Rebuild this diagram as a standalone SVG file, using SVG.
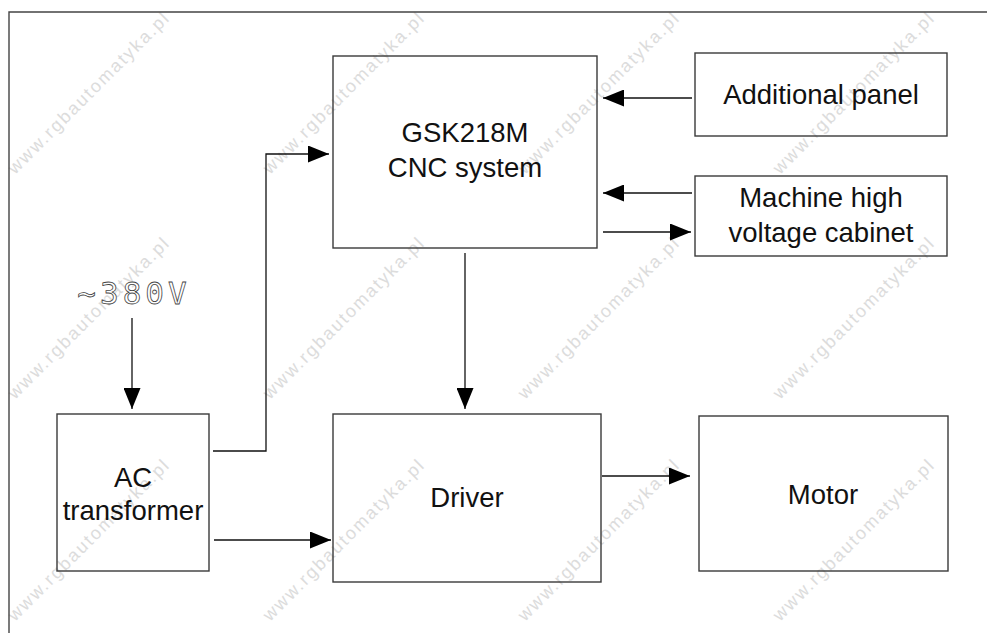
<svg xmlns="http://www.w3.org/2000/svg" width="987" height="633" viewBox="0 0 987 633">
  <style>
    .box { fill: none; stroke: #3a3a3a; stroke-width: 1.4; }
    .lbl { font-family: "Liberation Sans", Arial, sans-serif; font-size: 27.5px; fill: #111; text-anchor: middle; }
    .wire { fill: none; stroke: #111; stroke-width: 1.3; }
    .wm { font-family: "Liberation Sans", Arial, sans-serif; font-size: 18px; letter-spacing: 2px; fill: #dcdcdc; }
    .volt { font-family: "DejaVu Sans Mono", "Liberation Mono", monospace; font-size: 31px; letter-spacing: 4px; fill: #fff; stroke: #444; stroke-width: 0.8; text-anchor: middle; }
  </style>
  <defs>
    <marker id="arrow" markerUnits="userSpaceOnUse" markerWidth="21" markerHeight="17" refX="21" refY="8.5" orient="auto">
      <path d="M0,0 L21,8.5 L0,17 Z" fill="#000"/>
    </marker>
  </defs>
  <rect width="987" height="633" fill="#fff"/>

  <g id="watermark">
    <text class="wm" transform="translate(15,175) rotate(-45)">www.rgbautomatyka.pl</text>
    <text class="wm" transform="translate(270,175) rotate(-45)">www.rgbautomatyka.pl</text>
    <text class="wm" transform="translate(525,175) rotate(-45)">www.rgbautomatyka.pl</text>
    <text class="wm" transform="translate(780,175) rotate(-45)">www.rgbautomatyka.pl</text>
    <text class="wm" transform="translate(15,400) rotate(-45)">www.rgbautomatyka.pl</text>
    <text class="wm" transform="translate(270,400) rotate(-45)">www.rgbautomatyka.pl</text>
    <text class="wm" transform="translate(525,400) rotate(-45)">www.rgbautomatyka.pl</text>
    <text class="wm" transform="translate(780,400) rotate(-45)">www.rgbautomatyka.pl</text>
    <text class="wm" transform="translate(15,622) rotate(-45)">www.rgbautomatyka.pl</text>
    <text class="wm" transform="translate(270,622) rotate(-45)">www.rgbautomatyka.pl</text>
    <text class="wm" transform="translate(525,622) rotate(-45)">www.rgbautomatyka.pl</text>
    <text class="wm" transform="translate(780,622) rotate(-45)">www.rgbautomatyka.pl</text>
  </g>

  <path d="M9,633 V12 H987" fill="none" stroke="#444" stroke-width="1.4"/>

  <g id="cnc">
    <rect class="box" x="333" y="56" width="264" height="192"/>
    <text class="lbl" x="465" y="142">GSK218M</text>
    <text class="lbl" x="465" y="177">CNC system</text>
  </g>
  <g id="additional-panel">
    <rect class="box" x="695" y="53" width="252" height="83"/>
    <text class="lbl" x="821" y="104">Additional panel</text>
  </g>
  <g id="cabinet">
    <rect class="box" x="695" y="176" width="252" height="80"/>
    <text class="lbl" x="821" y="207">Machine high</text>
    <text class="lbl" x="821" y="242">voltage cabinet</text>
  </g>
  <g id="ac-transformer">
    <rect class="box" x="57" y="414" width="152" height="157"/>
    <text class="lbl" x="133" y="487">AC</text>
    <text class="lbl" x="133" y="520">transformer</text>
  </g>
  <g id="driver">
    <rect class="box" x="333" y="414" width="268" height="168"/>
    <text class="lbl" x="467" y="507">Driver</text>
  </g>
  <g id="motor">
    <rect class="box" x="699" y="416" width="249" height="155"/>
    <text class="lbl" x="823" y="504">Motor</text>
  </g>
  <g id="supply">
    <text class="volt" x="134" y="304">~380V</text>
  </g>

  <g id="connectors">
    <path class="wire" d="M692,98 H603" marker-end="url(#arrow)"/>
    <path class="wire" d="M692,193 H603" marker-end="url(#arrow)"/>
    <path class="wire" d="M603,232 H691" marker-end="url(#arrow)"/>
    <path class="wire" d="M465,253 V409" marker-end="url(#arrow)"/>
    <path class="wire" d="M132,318 V409" marker-end="url(#arrow)"/>
    <path class="wire" d="M213,451 H266 V154 H329" marker-end="url(#arrow)"/>
    <path class="wire" d="M214,540 H331" marker-end="url(#arrow)"/>
    <path class="wire" d="M602,476 H690" marker-end="url(#arrow)"/>
  </g>
</svg>
